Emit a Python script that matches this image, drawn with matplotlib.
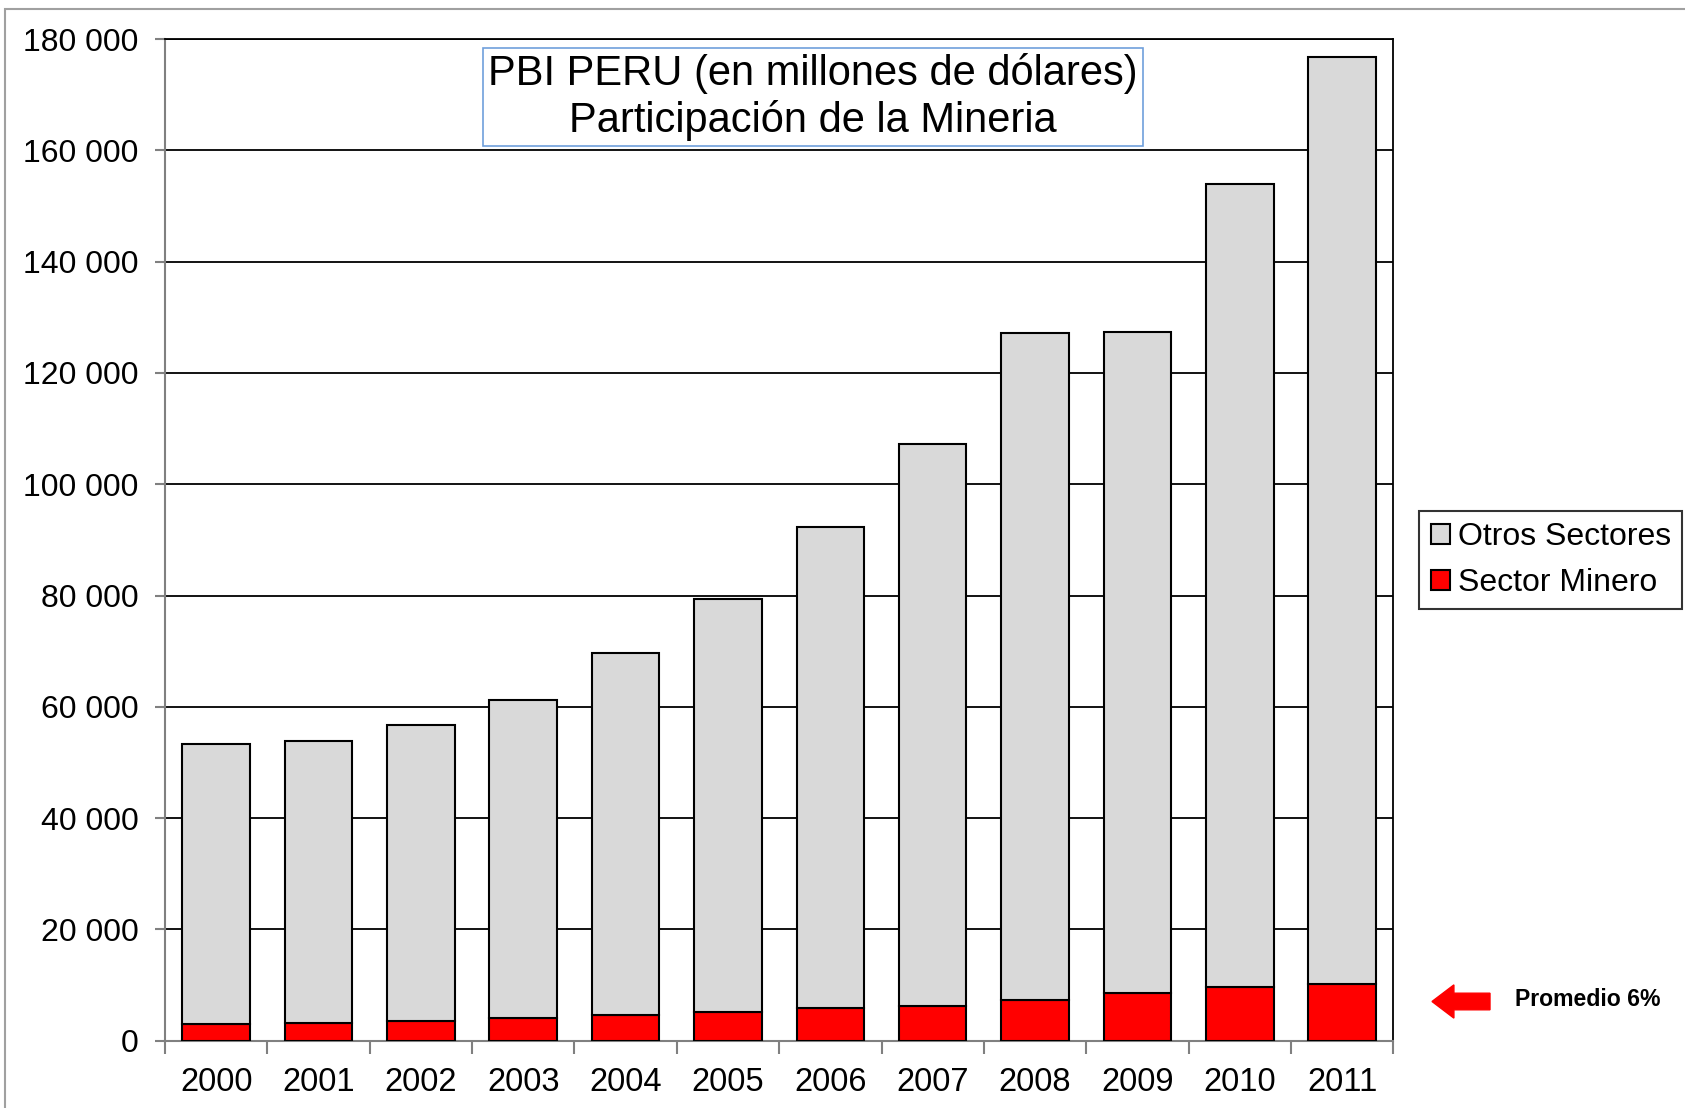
import matplotlib
matplotlib.use("Agg")
import matplotlib.pyplot as plt
import numpy as np
from matplotlib.patches import FancyArrow, Rectangle
from matplotlib.ticker import FuncFormatter

plt.rcParams['font.family'] = ['Liberation Sans', 'DejaVu Sans']

# PBI Peru, millones de US$
years = ['2000', '2001', '2002', '2003', '2004', '2005',
         '2006', '2007', '2008', '2009', '2010', '2011']
pbi_total = [53300, 53900, 56700, 61300, 69700, 79400,
             92300, 107300, 127100, 127300, 153900, 176700]
sector_minero = [3000, 3200, 3600, 4000, 4600, 5200,
                 5800, 6300, 7300, 8500, 9600, 10200]
otros_sectores = [t - m for t, m in zip(pbi_total, sector_minero)]

fig = plt.figure(figsize=(16.85, 11.08), dpi=100)
ax = fig.add_axes([0.0979, 0.0607, 0.729, 0.904])

x = np.arange(len(years))
w = 0.66
ax.bar(x, sector_minero, w, color='#FF0000', edgecolor='black', linewidth=1.5,
       label='Sector Minero', zorder=3)
ax.bar(x, otros_sectores, w, bottom=sector_minero, color='#D9D9D9',
       edgecolor='black', linewidth=1.5, label='Otros Sectores', zorder=3)

ax.set_xlim(-0.5, len(years) - 0.5)
ax.set_ylim(0, 180000)
ax.set_yticks(np.arange(0, 180001, 20000))
ax.yaxis.set_major_formatter(FuncFormatter(lambda v, p: f'{int(v):,}'.replace(',', ' ')))
ax.grid(axis='y', color='black', linewidth=1.3, zorder=1)
ax.set_axisbelow(True)

ax.set_xticks(x)
ax.set_xticklabels(years)
ax.set_xticks(np.arange(-0.5, len(years)), minor=True)
ax.tick_params(axis='x', which='major', length=0, pad=19, labelsize=23.5)
ax.tick_params(axis='x', which='minor', length=9, width=1.5, color='#808080')
ax.tick_params(axis='y', length=7, width=1.5, color='#808080', pad=12, labelsize=23)

for s in ['left', 'bottom']:
    ax.spines[s].set_color('#808080')
    ax.spines[s].set_linewidth(1.5)
for s in ['top', 'right']:
    ax.spines[s].set_color('black')
    ax.spines[s].set_linewidth(1.3)

# title box
fig.text(0.4824, 0.9125, 'PBI PERU (en millones de dólares)\nParticipación de la Mineria',
         ha='center', va='center', fontsize=30, linespacing=1.2,
         bbox=dict(boxstyle='square,pad=0.12', facecolor='white', edgecolor='#6FA0DC', linewidth=1.2))

# legend
h, l = ax.get_legend_handles_labels()
leg = fig.legend(h[::-1], l[::-1], loc='center left', bbox_to_anchor=(0.8424, 0.4946),
                 fontsize=23, frameon=True, fancybox=False, edgecolor='black',
                 handlelength=0.6, handleheight=0.6, handletextpad=0.25,
                 labelspacing=0.5, borderpad=0.35, borderaxespad=0)
leg.get_frame().set_linewidth(1.5)

# arrow + promedio
fig.patches.append(FancyArrow(1490 / 1685, 1 - 1001.5 / 1108, -58 / 1685, 0,
                              width=0.015, head_width=0.03, head_length=0.013,
                              length_includes_head=True, color='#FF0000',
                              transform=fig.transFigure))
fig.text(1515 / 1685, 1 - 999 / 1108, 'Promedio 6%', fontsize=16.6, fontweight='bold',
         ha='left', va='center')

# outer frame
fig.patches.append(Rectangle((5 / 1685, -0.1), 1.2, 1.1 - 9 / 1108, fill=False,
                             edgecolor='#A0A0A0', linewidth=1.5, transform=fig.transFigure))

fig.savefig('out.png', dpi=100)
